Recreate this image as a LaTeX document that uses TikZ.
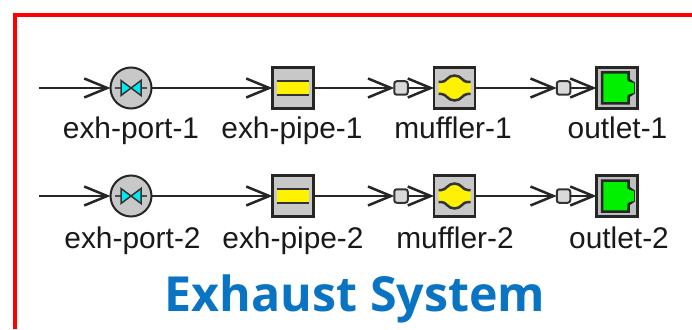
\documentclass[tikz,border=0pt]{standalone}
\usepackage{fontspec}
\setmainfont{Liberation Sans}
\newfontfamily\titlefont{Open Sans}
\usetikzlibrary{arrows.meta, positioning}
\definecolor{bodygray}{HTML}{C8C8C8}
\definecolor{titleblue}{HTML}{0A74C4}
\definecolor{valvecyan}{HTML}{00E8F0}
\definecolor{outletgreen}{HTML}{00F000}
\tikzset{
	flow/.style = {draw = black!85, line width = 0.05cm, -{Straight Barb[length = 0.46cm, width = 0.38cm]}},
	portbody/.style = {circle, draw = black!85, fill = bodygray, line width = 0.04cm, minimum size = 0.82cm, inner sep = 0, outer sep = 0},
	pipebody/.style = {rectangle, draw = black!85, fill = bodygray, line width = 0.045cm, minimum size = 0.82cm, inner sep = 0, outer sep = 0},
	joint/.style = {rectangle, rounded corners = 0.05cm, draw = black!80, fill = black!15, line width = 0.04cm, minimum size = 0.27cm, inner sep = 0, outer sep = 0},
	tag/.style = {anchor = base, font = \fontsize{17}{20}\selectfont, text = black!90, inner sep = 0},
	valveicon/.pic = {
		\draw[black!70, line width = 0.035cm] (-0.32, 0) -- (0.32, 0);
		\filldraw[fill = valvecyan, draw = black!80, line width = 0.03cm] (-0.2, 0.15) -- (0, 0) -- (-0.2, -0.15) -- cycle;
		\filldraw[fill = valvecyan, draw = black!80, line width = 0.03cm] (0.2, 0.15) -- (0, 0) -- (0.2, -0.15) -- cycle;
	},
	pipeicon/.pic = {
		\fill[yellow] (-0.32, -0.14) rectangle (0.32, 0.14);
		\draw[black!80, line width = 0.05cm] (-0.32, 0.14) -- (0.32, 0.14) (-0.32, -0.14) -- (0.32, -0.14);
	},
	mufflericon/.pic = {
		\fill[yellow] (-0.32, 0.12) -- (-0.26, 0.12) .. controls (-0.16, 0.12) and (-0.14, 0.25) .. (0, 0.25) .. controls (0.14, 0.25) and (0.16, 0.12) .. (0.26, 0.12) -- (0.32, 0.12) -- (0.32, -0.12) -- (0.26, -0.12) .. controls (0.16, -0.12) and (0.14, -0.25) .. (0, -0.25) .. controls (-0.14, -0.25) and (-0.16, -0.12) .. (-0.26, -0.12) -- (-0.32, -0.12) -- cycle;
		\draw[black!80, line width = 0.05cm] (-0.32, 0.12) -- (-0.26, 0.12) .. controls (-0.16, 0.12) and (-0.14, 0.25) .. (0, 0.25) .. controls (0.14, 0.25) and (0.16, 0.12) .. (0.26, 0.12) -- (0.32, 0.12);
		\draw[black!80, line width = 0.05cm] (-0.32, -0.12) -- (-0.26, -0.12) .. controls (-0.16, -0.12) and (-0.14, -0.25) .. (0, -0.25) .. controls (0.14, -0.25) and (0.16, -0.12) .. (0.26, -0.12) -- (0.32, -0.12);
	},
	outleticon/.pic = {
		\filldraw[fill = outletgreen, draw = black!85, line width = 0.05cm] (-0.3, 0.31) -- (0.23, 0.31) -- (0.23, 0.17) -- (0.33, 0.1) -- (0.33, -0.1) -- (0.23, -0.17) -- (0.23, -0.31) -- (-0.3, -0.31) -- cycle;
		\fill[outletgreen] (0.25, 0.12) -- (0.34, 0.1) -- (0.34, -0.1) -- (0.25, -0.12) -- cycle;
	}
}
\begin{document}
\begin{tikzpicture}
		\useasboundingbox (0, 0) rectangle (13.84, 6.58);
		% red frame, open on two sides
		\draw[red, line width = 0.08cm] (0.3, 0) -- (0.3, 6.27) -- (13.84, 6.27);
		% first row
		\coordinate (in1) at (0.78, 4.82);
		\node[portbody] (port1) at (2.62, 4.82) {};
		\node[pipebody] (pipe1) at (5.86, 4.82) {};
		\node[joint] (jointa1) at (8.02, 4.82) {};
		\node[pipebody] (muffler1) at (9.09, 4.82) {};
		\node[joint] (jointb1) at (11.27, 4.82) {};
		\node[pipebody, fill = black!25] (outlet1) at (12.34, 4.82) {};
		\pic at (port1) {valveicon};
		\pic at (pipe1) {pipeicon};
		\pic at (muffler1) {mufflericon};
		\pic at (outlet1) {outleticon};
		\draw[flow] (in1) -- (port1);
		\draw[flow] (port1) -- (pipe1);
		\draw[flow] (pipe1) -- (jointa1);
		\draw[flow] (jointa1) -- (muffler1);
		\draw[flow] (muffler1) -- (jointb1);
		\draw[flow] (jointb1) -- (outlet1);
		\node[tag] (portname1) at (2.62, 3.8) {exh-port-1};
		\node[tag] (pipename1) at (5.84, 3.8) {exh-pipe-1};
		\node[tag] (mufflername1) at (9.06, 3.8) {muffler-1};
		\node[tag] (outletname1) at (12.35, 3.8) {outlet-1};
		% second row
		\coordinate (in2) at (0.78, 2.66);
		\node[portbody] (port2) at (2.62, 2.66) {};
		\node[pipebody] (pipe2) at (5.86, 2.66) {};
		\node[joint] (jointa2) at (8.02, 2.66) {};
		\node[pipebody] (muffler2) at (9.09, 2.66) {};
		\node[joint] (jointb2) at (11.27, 2.66) {};
		\node[pipebody, fill = black!25] (outlet2) at (12.34, 2.66) {};
		\pic at (port2) {valveicon};
		\pic at (pipe2) {pipeicon};
		\pic at (muffler2) {mufflericon};
		\pic at (outlet2) {outleticon};
		\draw[flow] (in2) -- (port2);
		\draw[flow] (port2) -- (pipe2);
		\draw[flow] (pipe2) -- (jointa2);
		\draw[flow] (jointa2) -- (muffler2);
		\draw[flow] (muffler2) -- (jointb2);
		\draw[flow] (jointb2) -- (outlet2);
		\node[tag] (portname2) at (2.65, 1.62) {exh-port-2};
		\node[tag] (pipename2) at (5.86, 1.62) {exh-pipe-2};
		\node[tag] (mufflername2) at (9.1, 1.62) {muffler-2};
		\node[tag] (outletname2) at (12.38, 1.62) {outlet-2};
		% title
		\node[anchor = base, text = titleblue, inner sep = 0, font = \titlefont\bfseries\fontsize{27.5}{34}\selectfont] (title) at (7.1, 0.36) {Exhaust System};
		\end{tikzpicture}
\end{document}
